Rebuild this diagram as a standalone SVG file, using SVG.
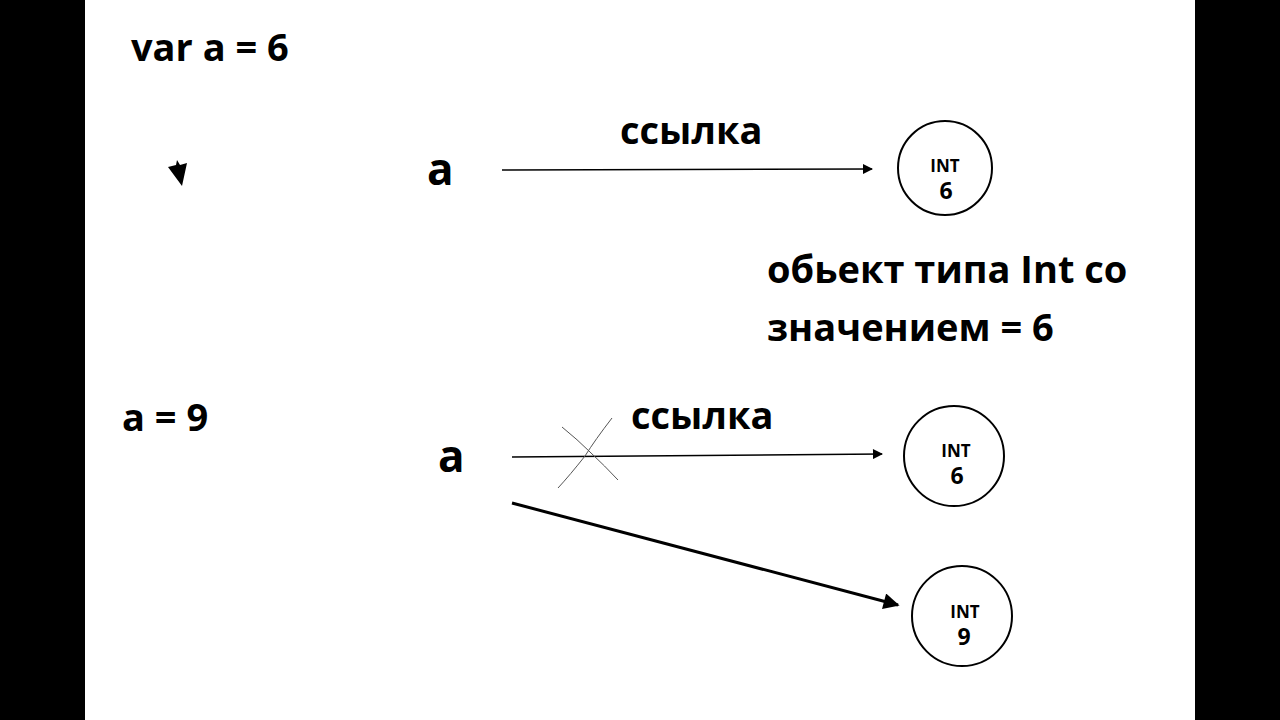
<svg xmlns="http://www.w3.org/2000/svg" width="1280" height="720" viewBox="0 0 1280 720">
<style>
text{font-family:"Open Sans","Noto Sans",sans-serif;font-weight:bold;fill:#000}
.c{fill:#fff;stroke:#000;stroke-width:2}
.t{font-size:17px;text-anchor:middle}
.n{font-size:23px;text-anchor:middle}
.l{font-size:38px}
</style>
<defs>
<marker id="ah" viewBox="0 0 10 10" refX="9" refY="5" markerWidth="15" markerHeight="10" markerUnits="userSpaceOnUse" orient="auto"><path d="M0,0L10,5L0,10z"/></marker>
<marker id="ah2" viewBox="0 0 10 10" refX="9" refY="5" markerWidth="22" markerHeight="16" markerUnits="userSpaceOnUse" orient="auto"><path d="M0,0L10,5L0,10z"/></marker>
</defs>
<rect width="1280" height="720" fill="#fff"/>
<rect x="0" y="0" width="85" height="720" fill="#000"/>
<rect x="1195" y="0" width="85" height="720" fill="#000"/>
<text class="l" x="131" y="61">var a = 6</text>
<text class="l" x="122" y="431">a = 9</text>
<polygon points="168,167 176,165 177,160 180,165 187,163 182,186" fill="#000"/>
<g id="a1"><text x="427" y="185" font-size="44">a</text></g>
<g id="a2"><text x="438" y="472" font-size="44">a</text></g>
<g id="int6a"><circle class="c" cx="945" cy="168" r="47"/><text class="t" x="945" y="172">INT</text><text class="n" x="946" y="199">6</text></g>
<g id="int6b"><circle class="c" cx="954" cy="456" r="50"/><text class="t" x="956" y="457">INT</text><text class="n" x="957" y="484">6</text></g>
<g id="int9"><circle class="c" cx="962" cy="616" r="50"/><text class="t" x="965" y="618">INT</text><text class="n" x="964" y="645">9</text></g>
<text class="l" x="620" y="144">ссылка</text>
<text class="l" x="631" y="429">ссылка</text>
<text class="l" x="767" y="283">обьект типа Int со</text>
<text class="l" x="767" y="341">значением = 6</text>
<g id="connectors" stroke="#000" fill="none">
<line x1="502" y1="170" x2="872" y2="169" stroke-width="1.5" marker-end="url(#ah)"/>
<line x1="512" y1="457" x2="882" y2="454" stroke-width="1.5" marker-end="url(#ah)"/>
<line x1="512" y1="503" x2="898" y2="605" stroke-width="3" marker-end="url(#ah2)"/>
<path d="M562,427 Q578,440 590,452 Q605,466 618,480" stroke="#555" stroke-width="1"/>
<path d="M612,418 Q595,440 585,456 Q570,475 558,488" stroke="#555" stroke-width="1"/>
</g>
</svg>
